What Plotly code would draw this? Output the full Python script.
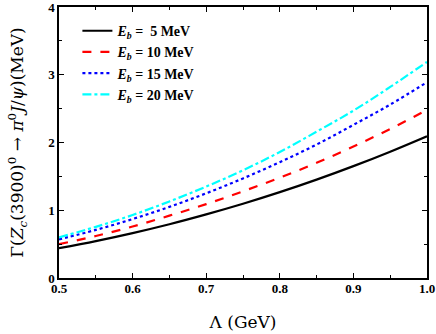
import plotly.graph_objects as go

lam = [0.50, 0.55, 0.60, 0.65, 0.70, 0.75, 0.80, 0.85, 0.90, 0.95, 1.00]
g_5 = [0.44, 0.545, 0.663, 0.794, 0.939, 1.096, 1.267, 1.452, 1.651, 1.865, 2.093]
g_10 = [0.50, 0.62, 0.76, 0.92, 1.09, 1.28, 1.48, 1.70, 1.94, 2.20, 2.48]
g_15 = [0.57, 0.71, 0.87, 1.05, 1.25, 1.47, 1.71, 1.97, 2.26, 2.56, 2.89]
g_20 = [0.60, 0.755, 0.93, 1.13, 1.35, 1.59, 1.86, 2.16, 2.47, 2.82, 3.19]

names = ["<b><i>E</i><sub><i>b</i></sub> =  5 MeV</b>",
         "<b><i>E</i><sub><i>b</i></sub> = 10 MeV</b>",
         "<b><i>E</i><sub><i>b</i></sub> = 15 MeV</b>",
         "<b><i>E</i><sub><i>b</i></sub> = 20 MeV</b>"]
series = [g_5, g_10, g_15, g_20]
colors = ["#000000", "#ff0000", "#0000ff", "#00ffff"]
dashes = ["solid", "dash", "dot", "dashdot"]

SERIF = "Liberation Serif"
TITLE_FONT = "DejaVu Serif"
fig = go.Figure()
for i, (nm, ys, c, d) in enumerate(zip(names, series, colors, dashes)):
    fig.add_trace(go.Scatter(x=lam, y=ys, mode="lines", name=nm, legendgroup=f"g{i}",
                             line=dict(color=c, dash=d, width=2.2, shape="spline")))

axis_common = dict(showline=True, linecolor="black", linewidth=1.5, mirror="allticks",
                   ticks="inside", ticklen=5, tickwidth=1.2, tickcolor="black",
                   showgrid=False, zeroline=False, automargin=False,
                   ticklabeloverflow="allow",
                   tickfont=dict(family=SERIF, size=13, color="black", weight="bold"))

fig.update_xaxes(range=[0.5, 1.0], dtick=0.1, tickformat=".1f", ticklabelstandoff=-2,
                 minor=dict(dtick=0.05, ticks="inside", ticklen=3, tickcolor="black", tickwidth=1),
                 title=dict(text="Λ (GeV)", font=dict(family=TITLE_FONT, size=17, color="black"), standoff=21),
                 **axis_common)
fig.update_yaxes(range=[0, 4], dtick=1,
                 minor=dict(dtick=0.5, ticks="inside", ticklen=3, tickcolor="black", tickwidth=1),
                 title=dict(text="Γ(<i>Z</i><sub><i>c</i></sub>(3900)<sup>0</sup> → <i>π</i><sup>0</sup><i>J</i>/<i>ψ</i>)(MeV)",
                            font=dict(family=TITLE_FONT, size=17, color="black"), standoff=20),
                 **axis_common)

fig.update_layout(width=436, height=334, margin=dict(l=59, r=9, t=7, b=56),
                  paper_bgcolor="white", plot_bgcolor="white",
                  legend=dict(x=0.05, y=0.97, xanchor="left", yanchor="top",
                              bgcolor="rgba(0,0,0,0)", tracegroupgap=0,
                              font=dict(family=SERIF, size=14, color="black")),
                  showlegend=True)

fig.write_html("out.html", config={"displayModeBar": False},
               post_script="document.body.style.margin='0';")
